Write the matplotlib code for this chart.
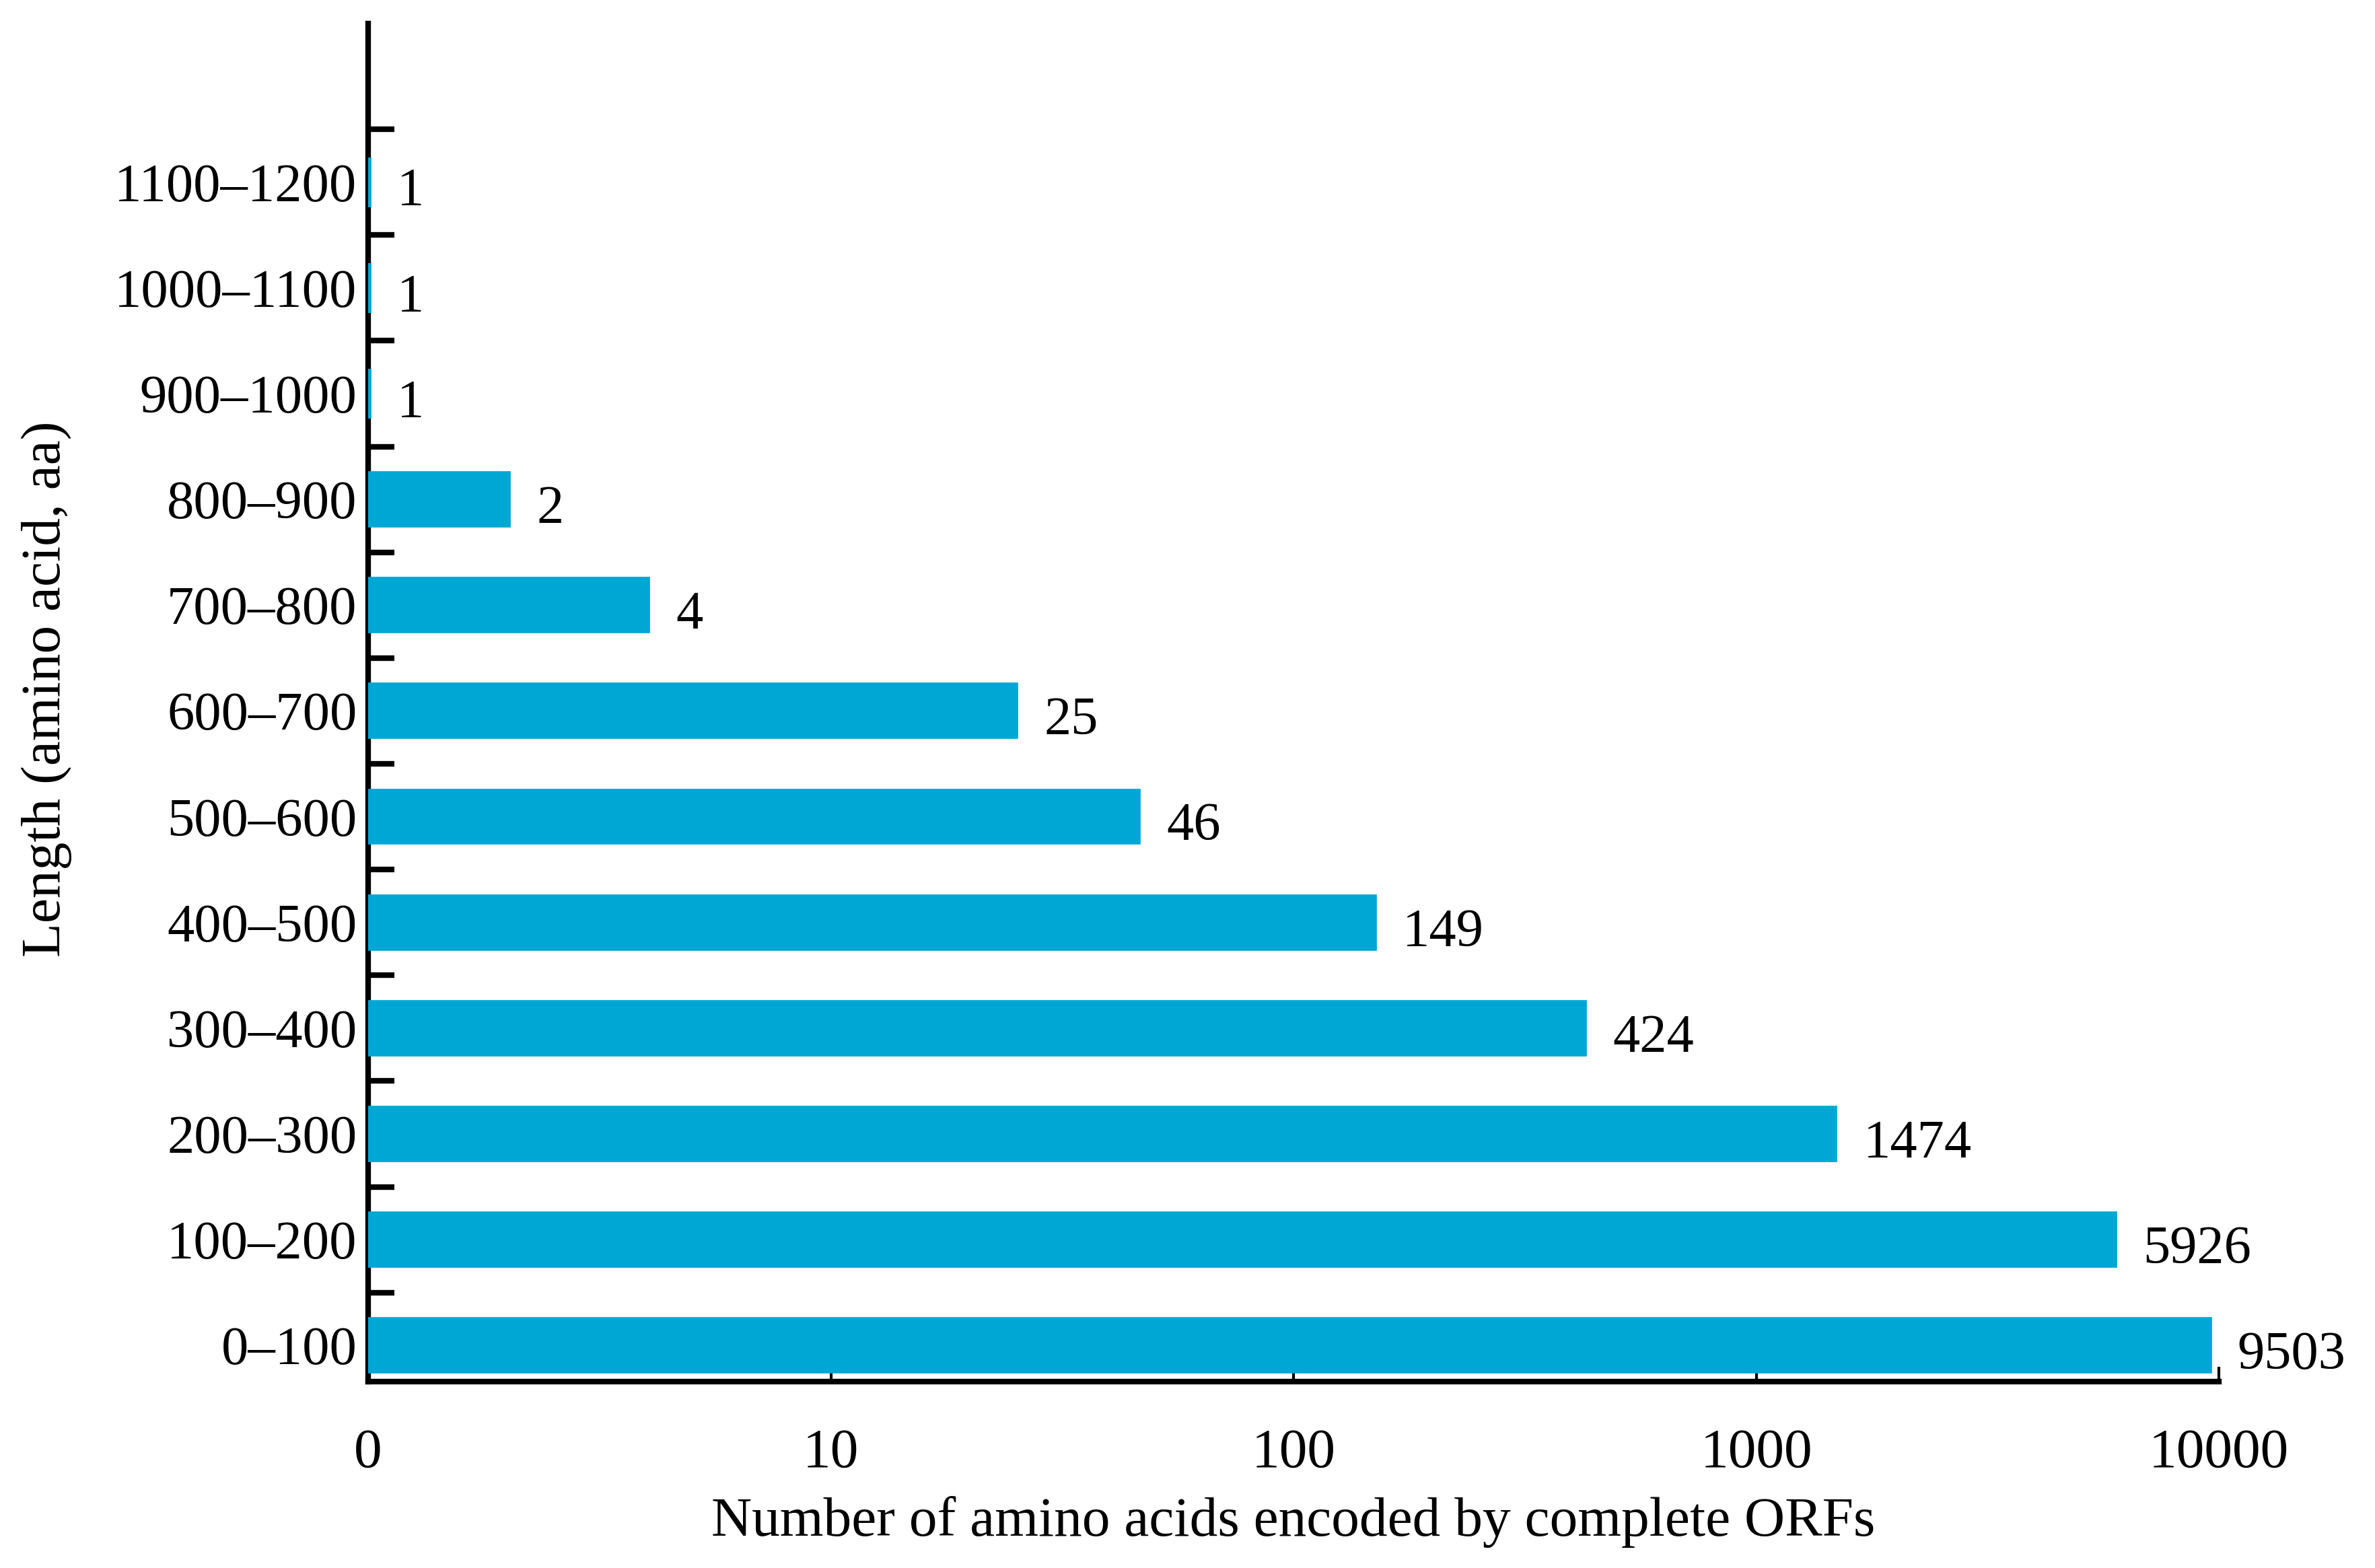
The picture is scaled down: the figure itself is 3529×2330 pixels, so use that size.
import numpy as np
import matplotlib.pyplot as plt
from matplotlib.ticker import FixedLocator, NullFormatter

plt.rcParams['font.family'] = ['Liberation Serif', 'DejaVu Serif']

lengths = ["0\u2013100", "100\u2013200", "200\u2013300", "300\u2013400", "400\u2013500",
           "500\u2013600", "600\u2013700", "700\u2013800", "800\u2013900", "900\u20131000",
           "1000\u20131100", "1100\u20131200"]
counts = [9503, 5926, 1474, 424, 149, 46, 25, 4, 2, 1, 1, 1]
x_ticks = [1, 10, 100, 1000, 10000]
x_tick_labels = ["0", "10", "100", "1000", "10000"]

bar_color = "#00A7D5"

fig = plt.figure(figsize=(35.3, 23.3), dpi=100)
ax = fig.add_axes([0.155, 0.119, 0.779, 0.866])

y = np.arange(len(lengths))
# bars start at 1 (shown as "0" on the log axis); edge keeps the 1-count bars visible
ax.barh(y, np.array(counts) - 1, left=1, height=0.47, color=bar_color,
        edgecolor=bar_color, linewidth=7, zorder=3)

ax.set_xscale("log")
ax.set_xlim(1, 10000)
ax.set_ylim(-0.34, 12.5)

for yi, c in zip(y, counts):
    ax.annotate(str(c), (c, yi), xytext=(31, -11), textcoords="offset points",
                ha="left", va="center", fontsize=58)

ax.set_xticks(x_ticks)
ax.set_xticklabels(x_tick_labels, fontsize=60)
ax.xaxis.set_minor_locator(FixedLocator([]))
ax.tick_params(axis="x", which="major", direction="in", length=16, width=3, pad=50)

ax.set_yticks(y)
ax.set_yticklabels(lengths, fontsize=58)
ax.tick_params(axis="y", which="major", length=0, pad=12)
ax.yaxis.set_minor_locator(FixedLocator(np.arange(0.5, 12, 1.0)))
ax.yaxis.set_minor_formatter(NullFormatter())
ax.tick_params(axis="y", which="minor", direction="in", length=28, width=6)

for s in ["top", "right"]:
    ax.spines[s].set_visible(False)
for s in ["left", "bottom"]:
    ax.spines[s].set_linewidth(6)

ax.set_xlabel("Number of amino acids encoded by complete ORFs", fontsize=60, labelpad=18)
ax.set_ylabel("Length (amino acid, aa)", fontsize=60)
ax.yaxis.set_label_coords(-0.160, 0.51)

fig.savefig("out.png", dpi=100)
